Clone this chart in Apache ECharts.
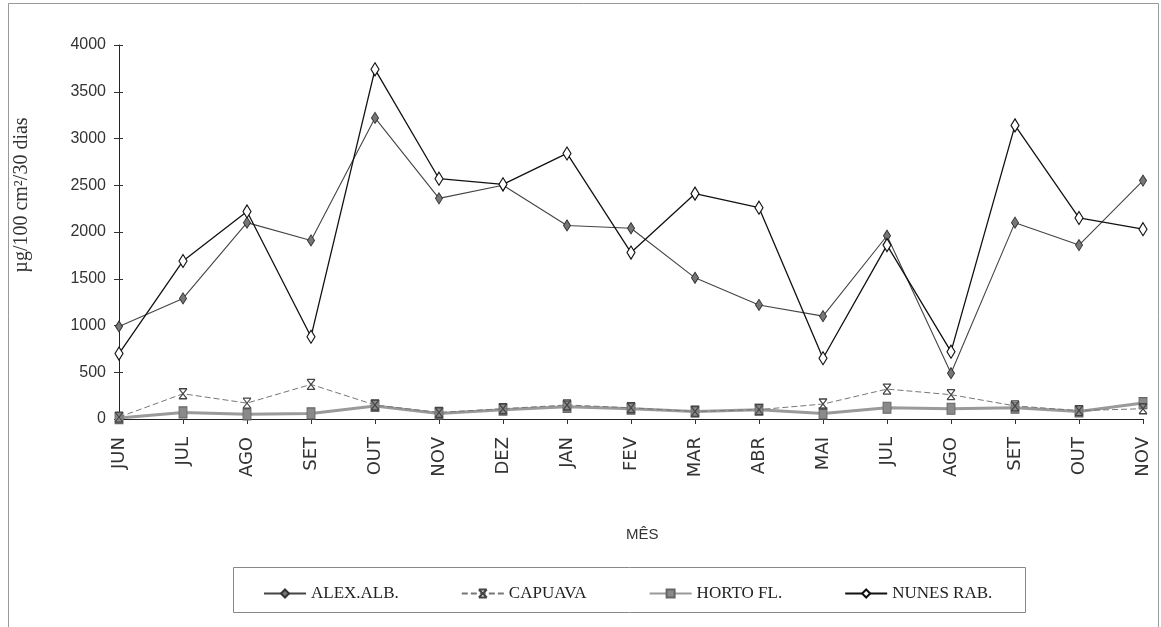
<!DOCTYPE html>
<html>
<head>
<meta charset="utf-8">
<script src="https://cdn.jsdelivr.net/npm/echarts@6/dist/echarts.min.js"></script>
<style>
html,body{margin:0;padding:0;background:#fff;}
#chart{width:1161px;height:627px;}
</style>
</head>
<body>
<div id="chart"></div>
<script>
var months = ['JUN','JUL','AGO','SET','OUT','NOV','DEZ','JAN','FEV','MAR','ABR','MAI','JUL','AGO','SET','OUT','NOV'];
var alexAlb = [990, 1290, 2100, 1910, 3220, 2360, 2500, 2070, 2040, 1510, 1220, 1100, 1960, 490, 2100, 1860, 2550];
var capuava = [20, 270, 170, 370, 150, 70, 110, 150, 120, 80, 100, 160, 320, 260, 140, 90, 110];
var hortoFl = [10, 70, 50, 60, 140, 60, 100, 130, 110, 80, 100, 60, 120, 110, 120, 80, 170];
var nunesRab = [700, 1690, 2220, 880, 3740, 2570, 2510, 2840, 1780, 2410, 2260, 650, 1860, 720, 3140, 2150, 2030];
var yTicks = {min: 0, max: 4000, interval: 500};

var chart = echarts.init(document.getElementById('chart'));
var xSymbol = 'path://M0,0L10,0M0,0L10,12M10,0L0,12M0,12L10,12';
var catVals = months.map(function(m, i){ return m + '#' + i; });

chart.setOption({
  backgroundColor: '#fff',
  animation: false,
  grid: {left: 119, right: 18, top: 45, bottom: 208},
  xAxis: [{
    type: 'category',
    data: catVals,
    boundaryGap: false,
    axisLine: {lineStyle: {color: '#222', width: 1}},
    axisTick: {show: true, alignWithLabel: true, length: 5, lineStyle: {color: '#333'}},
    axisLabel: {
      rotate: 90, margin: 18, fontSize: 18, color: '#333',
      fontFamily: 'DejaVu Sans',
      formatter: function(v){ return v.split('#')[0]; }
    }
  }],
  yAxis: [{
    type: 'value',
    min: yTicks.min, max: yTicks.max, interval: yTicks.interval,
    axisLine: {show: true, lineStyle: {color: '#222', width: 1}},
    axisTick: {show: true, length: 5, lineStyle: {color: '#333'}},
    splitLine: {show: false},
    axisLabel: {fontSize: 16, color: '#333', margin: 13, fontFamily: 'Liberation Sans',
      formatter: function(v){ return String(v); }}
  }, {
    type: 'value',
    position: 'left',
    min: yTicks.min, max: yTicks.max, interval: yTicks.interval,
    axisLine: {show: false},
    axisTick: {show: true, inside: true, length: 4, lineStyle: {color: '#333'}},
    splitLine: {show: false},
    axisLabel: {show: false}
  }],
  legend: {
    left: 258, top: 580, itemGap: 62, itemWidth: 42, itemHeight: 10,
    textStyle: {fontFamily: 'Liberation Serif', fontSize: 17, color: '#222'},
    data: ['ALEX.ALB.', 'CAPUAVA', 'HORTO FL.', 'NUNES RAB.']
  },
  graphic: [
    {type: 'rect', shape: {x: 8.5, y: 3.5, width: 1150, height: 630}, style: {fill: 'none', stroke: '#999', lineWidth: 1}, silent: true, z: -1},
    {type: 'rect', shape: {x: 233.5, y: 567.5, width: 792, height: 45}, style: {fill: 'none', stroke: '#888', lineWidth: 1}, silent: true},
    {type: 'text', left: 626, top: 527, style: {text: 'MÊS', fontSize: 15, fontFamily: 'Liberation Sans', fill: '#333'}},
    {type: 'text', x: 22, y: 195, rotation: Math.PI / 2,
     style: {text: 'µg/100 cm²/30 dias', fontSize: 20, fontFamily: 'Liberation Serif', fill: '#333', textAlign: 'center', textVerticalAlign: 'middle'}}
  ],
  series: [
    {
      name: 'ALEX.ALB.', type: 'line', data: alexAlb, z: 4,
      lineStyle: {color: '#444', width: 1.1},
      symbol: 'diamond', symbolSize: [7, 11],
      itemStyle: {color: '#777', borderColor: '#333', borderWidth: 1}
    },
    {
      name: 'CAPUAVA', type: 'line', data: capuava, z: 3,
      lineStyle: {color: '#777', width: 1, type: [6, 3]},
      symbol: xSymbol, symbolSize: [8, 10], symbolKeepAspect: false,
      itemStyle: {color: 'transparent', borderColor: '#444', borderWidth: 1.2}
    },
    {
      name: 'HORTO FL.', type: 'line', data: hortoFl, z: 2,
      lineStyle: {color: '#9a9a9a', width: 3},
      symbol: 'rect', symbolSize: [8, 11],
      itemStyle: {color: '#8a8a8a', borderColor: '#666', borderWidth: 1}
    },
    {
      name: 'NUNES RAB.', type: 'line', data: nunesRab, z: 5,
      lineStyle: {color: '#111', width: 1.3},
      symbol: 'diamond', symbolSize: [8, 13],
      itemStyle: {color: '#fff', borderColor: '#111', borderWidth: 1.2}
    }
  ]
});
</script>
</body>
</html>
